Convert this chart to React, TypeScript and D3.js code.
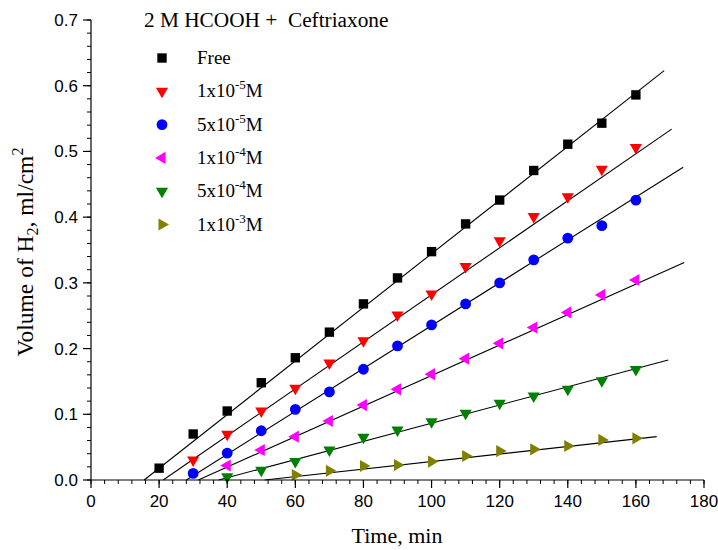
import React from "react";
import * as d3 from "d3";

const seriesNames = ["Free", "1x10", "5x10", "1x10", "5x10", "1x10"];
const seriesExp = ["", "-5", "-5", "-4", "-4", "-3"];
const seriesColors = ["#000000", "#ff0000", "#0000ff", "#ff00ff", "#008000", "#808000"];
const seriesShapes = ["square", "down", "circle", "left", "down", "right"];

const freeT = [20, 30, 40, 50, 60, 70, 80, 90, 100, 110, 120, 130, 140, 150, 160];
const freeV = [0.018, 0.07, 0.105, 0.148, 0.186, 0.225, 0.268, 0.3075, 0.3475, 0.3897, 0.426, 0.471, 0.511, 0.543, 0.586];

const c1e5T = [30, 40, 50, 60, 70, 80, 90, 100, 110, 120, 130, 140, 150, 160];
const c1e5V = [0.0304, 0.0695, 0.105, 0.1395, 0.178, 0.212, 0.251, 0.283, 0.3247, 0.364, 0.4008, 0.431, 0.473, 0.506];

const c5e5T = [30, 40, 50, 60, 70, 80, 90, 100, 110, 120, 130, 140, 150, 160];
const c5e5V = [0.01, 0.041, 0.075, 0.1075, 0.134, 0.1685, 0.204, 0.236, 0.268, 0.3, 0.335, 0.368, 0.387, 0.426];

const c1e4T = [40, 50, 60, 70, 80, 90, 100, 110, 120, 130, 140, 150, 160];
const c1e4V = [0.022, 0.0457, 0.066, 0.0898, 0.114, 0.138, 0.161, 0.1847, 0.208, 0.232, 0.255, 0.2816, 0.3044];

const c5e4T = [40, 50, 60, 70, 80, 90, 100, 110, 120, 130, 140, 150, 160];
const c5e4V = [0.005, 0.015, 0.028, 0.0457, 0.065, 0.076, 0.0888, 0.1015, 0.1167, 0.128, 0.138, 0.151, 0.168];

const c1e3T = [60, 70, 80, 90, 100, 110, 120, 130, 140, 150, 160];
const c1e3V = [0.0076, 0.014, 0.0213, 0.0228, 0.028, 0.0365, 0.044, 0.0467, 0.0517, 0.061, 0.0634];

// linear-fit lines: start time (at V = 0) and end point
const fitStartT = [15.6, 21.2, 28.0, 31.5, 37.5, 51.0];
const fitEndT = [168.3, 170.5, 173.9, 174.2, 169.5, 166.1];
const fitEndV = [0.623, 0.534, 0.476, 0.331, 0.1826, 0.066];

const xTicks = [0, 20, 40, 60, 80, 100, 120, 140, 160, 180];
const yTicks = [0.0, 0.1, 0.2, 0.3, 0.4, 0.5, 0.6, 0.7];

const allT = [freeT, c1e5T, c5e5T, c1e4T, c5e4T, c1e3T];
const allV = [freeV, c1e5V, c5e5V, c1e4V, c5e4V, c1e3V];

const W = 718;
const H = 550;
const M = { left: 91, right: 704, top: 20, bottom: 480 };

const serif = "'Liberation Serif', 'Times New Roman', serif";
const sans = "'Liberation Sans', Arial, sans-serif";

function markerPath(shape: string) {
  if (shape === "square") return d3.symbol(d3.symbolSquare, 88)() as string;
  if (shape === "circle") return d3.symbol(d3.symbolCircle, 92)() as string;
  return d3.symbol(d3.symbolTriangle, 64)() as string;
}

function rot(shape: string) {
  if (shape === "down") return 180;
  if (shape === "left") return -90;
  if (shape === "right") return 90;
  return 0;
}

function Marker({ x, y, shape, color }: { x: number; y: number; shape: string; color: string }) {
  return (
    <path
      d={markerPath(shape)}
      transform={`translate(${x},${y}) rotate(${rot(shape)})`}
      fill={color}
      stroke="none"
    />
  );
}

export default function App() {
  const x = d3.scaleLinear().domain([0, 180]).range([M.left, M.right]);
  const y = d3.scaleLinear().domain([0, 0.7]).range([M.bottom, M.top]);

  const xMinor = d3.range(0, 181, 4);
  const yMinor = d3.range(0, 0.7001, 0.02);

  const line = d3
    .line<[number, number]>()
    .x((d) => x(d[0]))
    .y((d) => y(d[1]));

  return (
    <svg width={W} height={H} style={{ display: "block", position: "absolute", left: 0, top: 0 }}>
      <rect width={W} height={H} fill="#fff" />
      {/* fit lines */}
      {fitStartT.map((t0, i) => (
        <path
          key={"fit" + i}
          d={line([
            [t0, 0],
            [fitEndT[i], fitEndV[i]],
          ]) as string}
          fill="none"
          stroke="#000"
          strokeWidth={1.1}
        />
      ))}
      {/* markers */}
      {allT.map((ts, i) =>
        ts.map((t, j) => (
          <Marker key={`m${i}-${j}`} x={x(t)} y={y(allV[i][j])} shape={seriesShapes[i]} color={seriesColors[i]} />
        ))
      )}
      {/* axes */}
      <line x1={M.left} x2={M.right} y1={M.bottom} y2={M.bottom} stroke="#000" strokeWidth={1.2} />
      <line x1={M.left} x2={M.left} y1={M.top} y2={M.bottom} stroke="#000" strokeWidth={1.2} />
      {xMinor.map((t) => (
        <line key={"xm" + t} x1={x(t)} x2={x(t)} y1={M.bottom} y2={M.bottom + 4} stroke="#000" strokeWidth={1} />
      ))}
      {xTicks.map((t) => (
        <g key={"xt" + t}>
          <line x1={x(t)} x2={x(t)} y1={M.bottom} y2={M.bottom + 8} stroke="#000" strokeWidth={1.2} />
          <text x={x(t)} y={507} textAnchor="middle" fontFamily={sans} fontSize={17}>
            {t}
          </text>
        </g>
      ))}
      {yMinor.map((v, k) => (
        <line key={"ym" + k} x1={M.left - 4} x2={M.left} y1={y(v)} y2={y(v)} stroke="#000" strokeWidth={1} />
      ))}
      {yTicks.map((v) => (
        <g key={"yt" + v}>
          <line x1={M.left - 8} x2={M.left} y1={y(v)} y2={y(v)} stroke="#000" strokeWidth={1.2} />
          <text x={78} y={y(v) + 6} textAnchor="end" fontFamily={sans} fontSize={17}>
            {v.toFixed(1)}
          </text>
        </g>
      ))}
      {/* axis titles */}
      <text x={397} y={543} textAnchor="middle" fontFamily={serif} fontSize={22}>
        Time, min
      </text>
      <text transform="translate(33,252) rotate(-90)" textAnchor="middle" fontFamily={serif} fontSize={23.5}>
        Volume of H<tspan dy={5} fontSize={16}>2</tspan>
        <tspan dy={-5}>, ml/cm</tspan>
        <tspan dy={-10} fontSize={16}>2</tspan>
      </text>
      {/* legend */}
      <text x={144} y={27} fontFamily={serif} fontSize={21.3} style={{ whiteSpace: "pre" }}>
        {"2 M HCOOH +  Ceftriaxone"}
      </text>
      {seriesNames.map((n, i) => {
        const ly = 58 + i * 33.3;
        return (
          <g key={"lg" + i}>
            <Marker x={162} y={ly} shape={seriesShapes[i]} color={seriesColors[i]} />
            <text x={197} y={ly + 6} fontFamily={serif} fontSize={19}>
              {n}
              {seriesExp[i] && (
                <>
                  <tspan dy={-8} fontSize={13}>{seriesExp[i]}</tspan>
                  <tspan dy={8}>M</tspan>
                </>
              )}
            </text>
          </g>
        );
      })}
    </svg>
  );
}
